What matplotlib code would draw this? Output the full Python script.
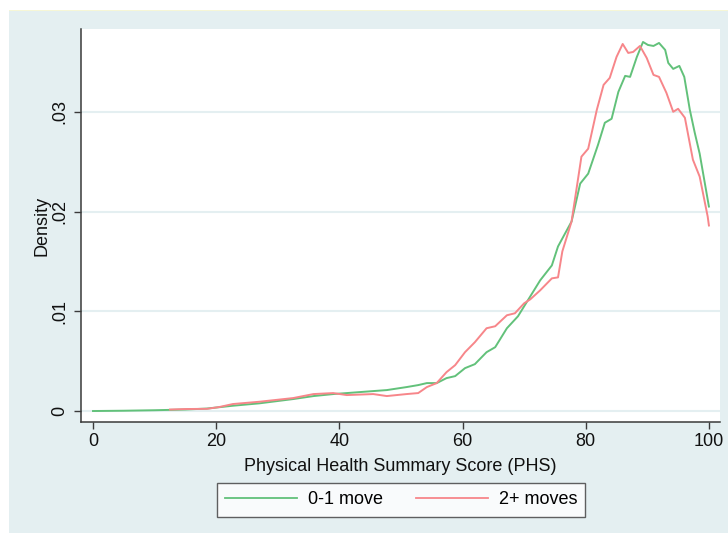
import matplotlib
matplotlib.use("Agg")
from matplotlib import pyplot as plt
from matplotlib.patches import Rectangle

plt.rcParams['font.family'] = ['Liberation Sans', 'DejaVu Sans']

# kernel density estimates
phs_low = [0, 5, 10, 15, 18.5, 22.7, 27, 32.5, 35.8, 39, 41.2, 45.5, 47.7, 50.9,
           52.8, 54.2, 55.8, 57.4, 58.8, 60.4, 62, 63.9, 65.3, 67.2, 69, 70.5,
           72.6, 74.5, 75.5, 77.7, 79.1, 80.4, 82, 83.1, 84.2, 85.3, 86.4, 87.2,
           88.3, 89.3, 90.1, 91, 91.9, 92.9, 93.4, 94.2, 95.2, 96, 96.9, 97.7,
           98.5, 100]
dens_low = [0, .00003, .00008, .00015, .00025, .00053, .00077, .0012, .0015,
            .0017, .0018, .002, .0021, .0024, .0026, .0028, .0028, .0033, .0035,
            .0043, .0047, .0059, .0064, .0083, .0095, .011, .0131, .0146, .0165,
            .019, .0228, .0238, .0267, .0289, .0293, .032, .0336, .0335, .0355,
            .037, .0367, .0366, .0369, .0362, .0349, .0343, .0346, .0335, .0302,
            .0279, .0258, .0205]

phs_high = [12.5, 15, 18.5, 20.5, 22.7, 27, 32.5, 35.8, 39, 41.2, 45.5, 47.7,
            50.9, 52.8, 54.2, 55.8, 57.4, 58.8, 60.4, 62, 63.9, 65.3, 67.2, 68.5,
            70, 71, 72.6, 74.5, 75.5, 76.2, 77.7, 79.3, 80.4, 81.8, 82.9, 83.9,
            85, 86, 86.9, 87.7, 88.8, 89.9, 91, 91.9, 93.1, 94.2, 95, 96.1, 97.4,
            98.5, 99.8, 100]
dens_high = [.00015, .0002, .00022, .0004, .0007, .00093, .0013, .0017, .0018,
             .0016, .0017, .0015, .0017, .0018, .0024, .0028, .0039, .0046,
             .0059, .0069, .0083, .0085, .0096, .0098, .0108, .0112, .0121,
             .0133, .0134, .016, .019, .0255, .0263, .0302, .0327, .0334, .0355,
             .0368, .0359, .036, .0366, .0354, .0337, .0335, .0319, .030, .0303,
             .0294, .0252, .0235, .0195, .0186]

labels = ['0-1 move', '2+ moves']
xticks = [0, 20, 40, 60, 80, 100]
yticks = [0, .01, .02, .03]
ytick_labels = ['0', '.01', '.02', '.03']

bg = '#e4eff1'
grid = '#e4eff1'
dark = '#3a3a3a'

W, H = 728, 533
fig = plt.figure(figsize=(W / 100, H / 100), dpi=100, facecolor='white')
fig.patches.append(Rectangle((9 / W, 0), 1 - 9 / W, (H - 10) / H,
                             transform=fig.transFigure, facecolor=bg,
                             edgecolor='none', zorder=-2))
fig.patches.append(Rectangle((9 / W, (H - 11) / H), 1 - 9 / W, 1.5 / H,
                             transform=fig.transFigure, facecolor='#f6f6d6',
                             edgecolor='none', zorder=-1))

ax = fig.add_axes([81 / W, (H - 422) / H, (720 - 81) / W, (422 - 29) / H])
ax.set_facecolor('white')

ax.plot(phs_low, dens_low, color='#62c17a', lw=1.4, label=labels[0],
        solid_joinstyle='round')
ax.plot(phs_high, dens_high, color='#f7868a', lw=1.4, label=labels[1],
        solid_joinstyle='round')

ax.set_xlim(-1.95, 101.8)
ax.set_ylim(-0.0011, 0.0383)
ax.set_xticks(xticks)
ax.set_yticks(yticks)
ax.set_yticklabels(ytick_labels, rotation=90, va='center')
ax.grid(axis='y', color=grid, lw=1.5)
ax.set_axisbelow(True)

for s in ['top', 'right']:
    ax.spines[s].set_visible(False)
for s in ['left', 'bottom']:
    ax.spines[s].set_color(dark)
    ax.spines[s].set_linewidth(1.1)

ax.tick_params(axis='both', colors=dark, labelcolor='#111111', labelsize=13,
               length=5, width=1)
ax.tick_params(axis='y', pad=4)
ax.tick_params(axis='x', pad=3)

ax.set_xlabel('Physical Health Summary Score (PHS)', fontsize=13,
              color='#111111', labelpad=6)
ax.set_ylabel('Density', fontsize=13, color='#111111', labelpad=1)

leg = fig.legend(loc='center', bbox_to_anchor=(401 / W, (H - 500) / H), ncol=2,
                 fontsize=13, frameon=True, fancybox=False, handlelength=4.0,
                 handletextpad=0.6, columnspacing=1.8, borderpad=0.45)
leg.get_frame().set_edgecolor(dark)
leg.get_frame().set_linewidth(1)
for line in leg.get_lines():
    line.set_linewidth(1.3)

fig.savefig('out.png', dpi=100, facecolor='white')
